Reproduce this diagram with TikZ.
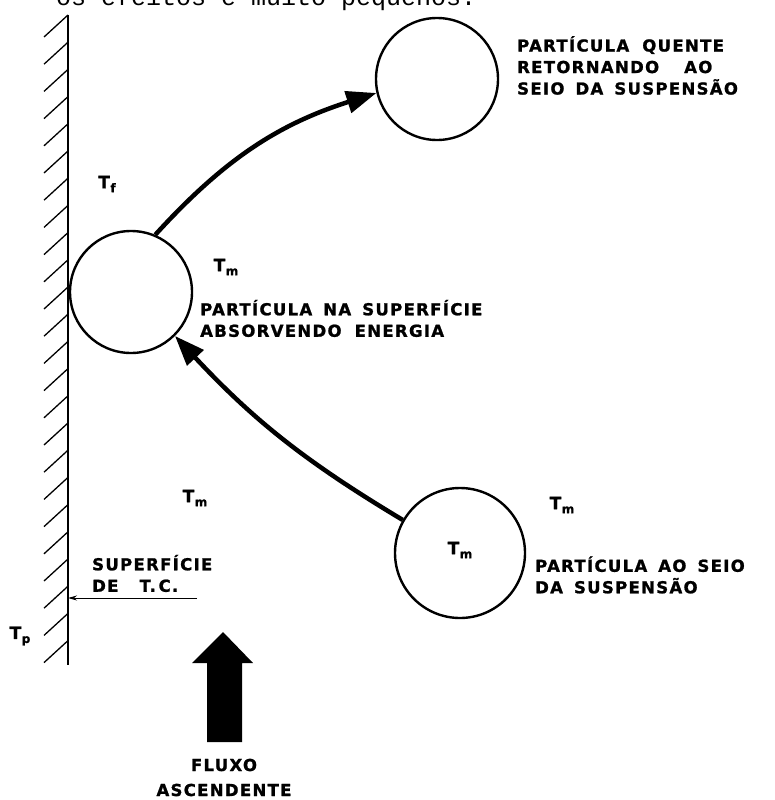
\documentclass[tikz,border=0pt]{standalone}
\usepackage{fontspec}
\newfontfamily\lettering{DejaVu Sans}[LetterSpace=8, FakeBold=1.2]
\newfontfamily\typewriter{Liberation Mono}
\usetikzlibrary{arrows.meta}
\newcommand{\tsym}[1]{{\fontsize{17}{17}\selectfont T}\kern0.5pt\raisebox{-4pt}{\fontsize{12}{12}\selectfont #1}}

\tikzset{
  particle/.style={circle, draw, line width=2.4pt, inner sep=0pt},
  caption/.style={font={\lettering\bfseries\fontsize{16.5}{21.5}\selectfont}, align=left, inner sep=0pt},
  flowarrow/.style={line width=4.5pt, -{Triangle[length=30pt,width=22pt]}},
}

\begin{document}
\begin{tikzpicture}[x=1pt, y=-1pt]
  \useasboundingbox (0,0) rectangle (774,800);
  % line of the page above, cut by the frame
  \node (pageline) [anchor=base west, inner sep=0pt, font={\typewriter\fontsize{25}{25}\selectfont}] at (56,6) {os efeitos e muito pequenos.};

  % heated wall with hatching
  \draw[line width=1.8pt] (68,15) -- (68,665);
  \foreach \i in {0,...,23}
    \draw[line width=1.3pt] (68,15+27.2*\i) -- ++(-24,22);

  % particles
  \node (hot)  [particle, minimum size=122pt] at (437,79) {};
  \node (surf) [particle, minimum size=122pt] at (131,292) {};
  \node (bulk) [particle, minimum size=130pt] at (460,553) {};

  \draw[flowarrow] (bulk.150) to[bend left=8] (surf.-45);
  \draw[flowarrow] (surf.67) to[bend left=15] (hot.193);

  % temperatures
  \node (tf)  [caption] at (107,184) {\tsym{f}};
  \node (tm1) [caption] at (226,267) {\tsym{m}};
  \node (tm2) [caption] at (195,498) {\tsym{m}};
  \node (tm3) [caption] at (460,550) {\tsym{m}};
  \node (tm4) [caption] at (562,505) {\tsym{m}};
  \node (tp)  [caption] at (20,636) {\tsym{p}};

  % captions
  \node (hotlbl)  [caption, anchor=west] at (517,65.5) {PARTÍCULA\hspace{6pt} QUENTE\\RETORNANDO\hspace{18pt} AO\\SEIO\hspace{4pt} DA\hspace{4pt} SUSPENSÃO};
  \node (surflbl) [caption, anchor=west] at (200,318.5) {PARTÍCULA\hspace{4pt} NA\hspace{4pt} SUPERFÍCIE\\ABSORVENDO\hspace{6pt} ENERGIA};
  \node (bulklbl) [caption, anchor=west] at (535,575) {PARTÍCULA\hspace{4pt} AO\hspace{4pt} SEIO\\DA\hspace{4pt} SUSPENSÃO};
  \node (tclbl)   [caption, anchor=west] at (92,573.5) {SUPERFÍCIE\\DE\hspace{14pt} T.\,C.};

  \coordinate (tcend) at (197,598);
  \coordinate (wallpt) at (68,598);
  \draw[line width=1pt, -{Stealth[length=9pt,width=5pt]}] (tcend) -- (wallpt);

  % upward flow
  \fill (207,742) -- (207,663) -- (192,663) -- (223,632) -- (253,663) -- (242,663) -- (242,742) -- cycle;
  \node (flowlbl) [caption, align=center, font={\lettering\bfseries\fontsize{16.5}{25}\selectfont}] at (224,777.5) {FLUXO\\ASCENDENTE};
\end{tikzpicture}
\end{document}
